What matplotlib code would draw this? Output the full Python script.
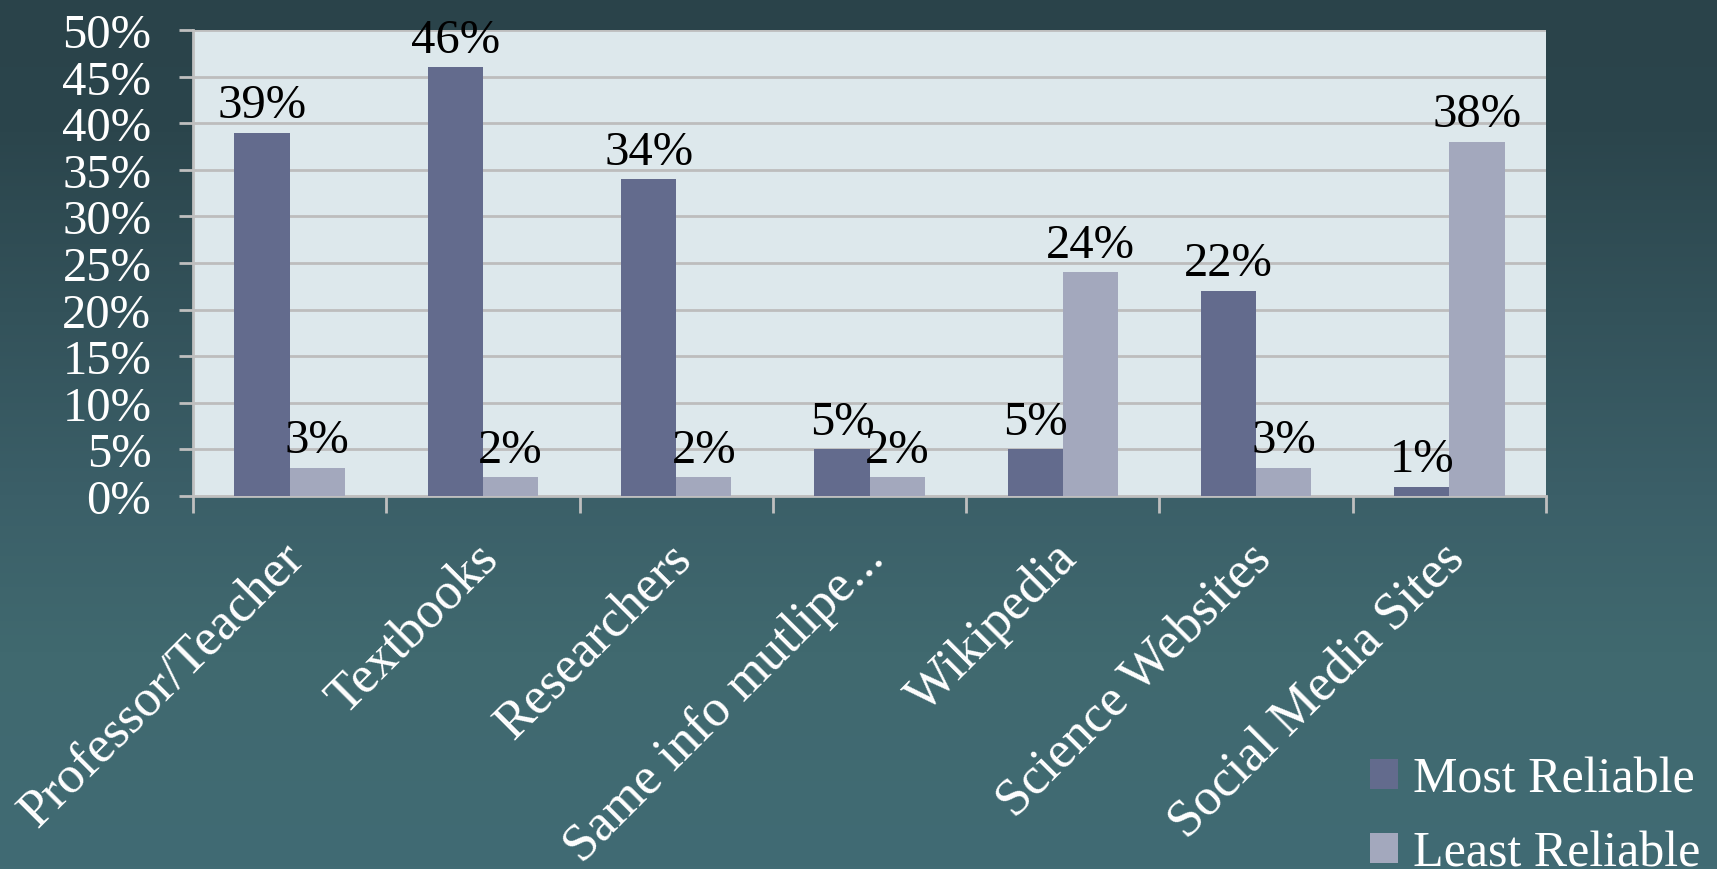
import numpy as np
import matplotlib.pyplot as plt
from matplotlib.colors import LinearSegmentedColormap

categories = ['Professor/Teacher', 'Textbooks', 'Researchers', 'Same info mutlipe...',
              'Wikipedia', 'Science Websites', 'Social Media Sites']
most_reliable = [39, 46, 34, 5, 5, 22, 1]
least_reliable = [3, 2, 2, 2, 24, 3, 38]
y_ticks = [0, 5, 10, 15, 20, 25, 30, 35, 40, 45, 50]

plt.rcParams['font.family'] = ['Liberation Serif', 'DejaVu Serif']

fig = plt.figure(figsize=(17.17, 8.70), dpi=100)

# slide background: dark teal fading lighter toward the bottom
bg = fig.add_axes([0, 0, 1, 1], zorder=-10)
bg.axis('off')
cmap = LinearSegmentedColormap.from_list(
    'slide', [(0.0, '#416b74'), (0.25, '#40696f'), (0.43, '#3b5f68'),
              (0.85, '#2b454c'), (1.0, '#2a434a')])
grad = np.linspace(0, 1, 256).reshape(-1, 1)
bg.imshow(grad, aspect='auto', cmap=cmap, origin='lower', extent=[0, 1, 0, 1])

ax = fig.add_axes([193 / 1717, 1 - 497 / 870, (1546 - 193) / 1717, (497 - 31) / 870])
ax.set_facecolor('#dde8ec')

x = np.arange(len(categories))
w = 1 / 3.5
b1 = ax.bar(x - w / 2, most_reliable, w, color='#636b8d', label='Most Reliable', zorder=3)
b2 = ax.bar(x + w / 2, least_reliable, w, color='#a3a8bd', label='Least Reliable', zorder=3)

for bars, vals in ((b1, most_reliable), (b2, least_reliable)):
    for rect, v in zip(bars, vals):
        ax.annotate(f'{v}%', (rect.get_x() + rect.get_width() / 2, v),
                    xytext=(0, 4), textcoords='offset points',
                    ha='center', va='bottom', fontsize=35, color='black', zorder=4)

ax.set_xlim(-0.5, len(categories) - 0.5)
ax.set_ylim(0, 50)
ax.set_yticks(y_ticks)
ax.set_yticklabels([f'{t}%' for t in y_ticks], fontsize=35, color='white')
ax.yaxis.grid(True, color='#bdbdbd', linewidth=2, zorder=0)
ax.tick_params(axis='y', length=10, width=2, color='#bfbfbf', pad=20)

ax.set_xticks(np.arange(len(categories) + 1) - 0.5)
ax.set_xticklabels([])
ax.tick_params(axis='x', length=12, width=2, color='#bfbfbf')
for i, name in enumerate(categories):
    ax.text(i - 0.05, -4.0, name, rotation=45, rotation_mode='anchor',
            ha='right', va='top', fontsize=38, color='white')

for side in ('top', 'right'):
    ax.spines[side].set_visible(False)
for side in ('left', 'bottom'):
    ax.spines[side].set_color('#bfbfbf')
    ax.spines[side].set_linewidth(2)

fig.legend(handles=[b1, b2], loc='upper left', bbox_to_anchor=(1370 / 1717, 1 - 757 / 870),
           frameon=False, fontsize=36, labelcolor='white', borderpad=0, borderaxespad=0,
           handlelength=0.55, handleheight=0.55, handletextpad=0.3, labelspacing=0.55)

fig.savefig('out.png', dpi=100)
